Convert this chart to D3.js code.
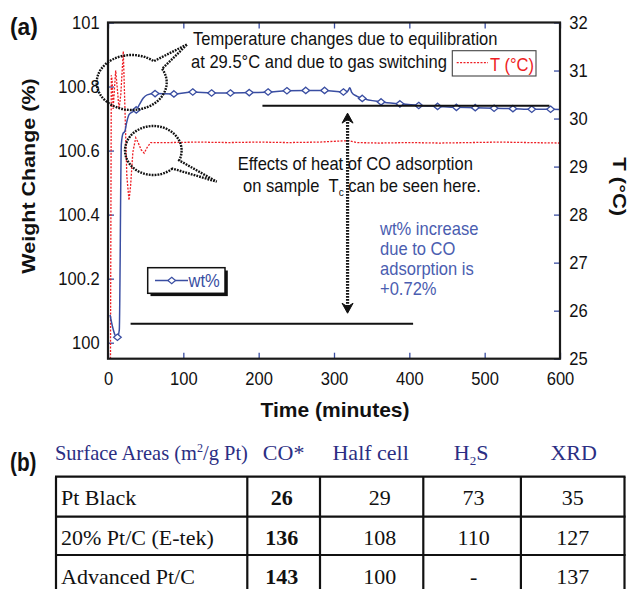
<!DOCTYPE html>
<html>
<head>
<meta charset="utf-8">
<script src="https://cdn.jsdelivr.net/npm/d3@7"></script>
<style>
  body { margin: 0; background: #fff; }
  svg { display: block; }
</style>
</head>
<body>
<div id="chart"></div>
<script>
// ---- data ----
var wtTime = [2.7, 6, 9.3, 12.5, 15, 17.7, 20, 22.2, 25, 27.9, 32, 37.5, 42, 46.9, 52,
  62.5, 87.5, 112.5, 137.5, 162.5, 187.5, 212.5, 237.5, 262.5, 287.5, 312.5, 318, 321,
  323.5, 330, 337.5, 362.5, 387.5, 412.5, 437.5, 462.5, 487.5, 512.5, 537.5, 562.5, 587.5, 600];
var wtValue = [100.087, 100.05, 100.024, 100.017, 100.04, 100.62, 100.654, 100.659, 100.69,
  100.712, 100.72, 100.727, 100.745, 100.764, 100.774, 100.778, 100.777, 100.783, 100.78,
  100.78, 100.781, 100.783, 100.787, 100.788, 100.788, 100.783, 100.785, 100.796, 100.782,
  100.770, 100.763, 100.752, 100.746, 100.741, 100.738, 100.735, 100.734, 100.732, 100.731,
  100.729, 100.729, 100.728];

var tempTime = [3.3, 4.4, 5.5, 6.8, 8.5, 10.2, 12.5, 14.6, 17, 20.3, 22.5, 25, 27.9, 30, 33,
  36.8, 40, 44, 48, 52, 56.7, 80, 120, 160, 200, 240, 280, 305, 320, 330, 360, 400, 440,
  480, 520, 560, 600];
var tempValue = [25.0, 30.9, 30.8, 30.2, 30.6, 31.0, 30.6, 30.2, 30.5, 31.4, 30.2, 28.8, 28.3,
  28.6, 29.3, 29.6, 29.5, 29.35, 29.28, 29.4, 29.5, 29.5, 29.51, 29.5, 29.51, 29.5, 29.51,
  29.53, 29.54, 29.5, 29.49, 29.5, 29.49, 29.5, 29.51, 29.5, 29.49];

var timeTicks = [0, 100, 200, 300, 400, 500, 600];
var wtTicks = [100, 100.2, 100.4, 100.6, 100.8, 101];
var tempTicks = [25, 26, 27, 28, 29, 30, 31, 32];

// reference levels used for the +0.72% annotation
var wtBaseline = 100.059, wtPlateau = 100.74;

// table (b)
var sampleNames = ["Pt Black", "20% Pt/C (E-tek)", "Advanced Pt/C"];
var coArea = ["26", "136", "143"];
var halfCellArea = ["29", "108", "100"];
var h2sArea = ["73", "110", "-"];
var xrdArea = ["35", "127", "137"];

// ---- layout ----
var W = 628, H = 589;
var plotL = 108, plotR = 560, plotT = 22.5, plotB = 358.7;
var blue = "#3a4ea2", red = "#ee1d23", navy = "#2b2e83";
var sans = "'Liberation Sans', Arial, sans-serif";
var serif = "'Liberation Serif', 'Times New Roman', serif";

var svg = d3.select("#chart").append("svg")
  .attr("width", W).attr("height", H)
  .attr("font-family", sans);

var x = d3.scaleLinear().domain([0, 600]).range([plotL, plotR]);
var yWt = d3.scaleLinear().domain([99.95, 101]).range([plotB, plotT]);
var yT = d3.scaleLinear().domain([25, 32]).range([plotB, plotT]);

function addText(parent, px, py, str, size, o) {
  o = o || {};
  return parent.append("text")
    .attr("transform", "translate(" + px + "," + py + ")" + (o.rot ? " rotate(" + o.rot + ")" : "") +
      " scale(" + (o.sx || 1) + "," + (o.sy || 1) + ")")
    .attr("font-size", size)
    .attr("font-weight", o.bold ? "bold" : null)
    .attr("font-family", o.family || null)
    .attr("fill", o.color || "#111")
    .attr("text-anchor", o.anchor || "start")
    .text(str);
}

// ---- axes ----
function styleAxis(g) {
  g.select(".domain").remove();
  g.selectAll(".tick line").attr("stroke", blue).attr("stroke-width", 1.3);
  g.selectAll(".tick text").attr("font-size", 18).attr("fill", "#111")
    .attr("font-family", sans).attr("transform", "scale(0.92,1)");
}

var fmtWt = function (d) { return String(+d.toFixed(1)); };

svg.append("g").attr("transform", "translate(0," + plotB + ")")
  .call(d3.axisBottom(x).tickValues(timeTicks).tickSizeInner(-6).tickSizeOuter(0).tickPadding(14))
  .call(styleAxis);
svg.append("g").attr("transform", "translate(0," + plotT + ")")
  .call(d3.axisTop(x).tickValues(timeTicks).tickSizeInner(-6).tickSizeOuter(0).tickFormat(""))
  .call(styleAxis);
svg.append("g").attr("transform", "translate(" + plotL + ",0)")
  .call(d3.axisLeft(yWt).tickValues(wtTicks).tickFormat(fmtWt).tickSizeInner(-6).tickSizeOuter(0).tickPadding(9))
  .call(styleAxis);
svg.append("g").attr("transform", "translate(" + plotR + ",0)")
  .call(d3.axisRight(yT).tickValues(tempTicks).tickFormat(d3.format("d")).tickSizeInner(-6).tickSizeOuter(0).tickPadding(10))
  .call(styleAxis);

// ---- series ----
svg.append("clipPath").attr("id", "plot").append("rect")
  .attr("x", plotL).attr("y", plotT).attr("width", plotR - plotL).attr("height", plotB - plotT);

var plot = svg.append("g").attr("clip-path", "url(#plot)");

var tempLine = d3.line()
  .x(function (d, i) { return x(tempTime[i]); })
  .y(function (d) { return yT(d); });

plot.append("path")
  .attr("d", tempLine(tempValue))
  .attr("fill", "none").attr("stroke", red)
  .attr("stroke-width", 1.3).attr("stroke-dasharray", "2,1.4");

var wtLine = d3.line()
  .x(function (d, i) { return x(wtTime[i]); })
  .y(function (d) { return yWt(d); })
  .curve(d3.curveMonotoneX);

plot.append("path")
  .attr("d", wtLine(wtValue))
  .attr("fill", "none").attr("stroke", blue).attr("stroke-width", 1.5);

var diamond = "M0,-3.2L3.8,0L0,3.2L-3.8,0Z";
var markerIdx = d3.range(wtTime.length).filter(function (i) {
  return Math.abs(((wtTime[i] - 12.5) % 25)) < 0.01;
});
plot.selectAll(".mk").data(markerIdx).enter().append("path")
  .attr("class", "mk")
  .attr("d", diamond)
  .attr("transform", function (i) { return "translate(" + x(wtTime[i]) + "," + yWt(wtValue[i]) + ")"; })
  .attr("fill", "#fff").attr("stroke", blue).attr("stroke-width", 1.3);

// frame
svg.append("rect")
  .attr("x", plotL).attr("y", plotT).attr("width", plotR - plotL).attr("height", plotB - plotT)
  .attr("fill", "none").attr("stroke", "#1a1a1a").attr("stroke-width", 2.2);

// ---- annotations ----
var ann = svg.append("g");

ann.append("line")
  .attr("x1", x(205)).attr("x2", x(586)).attr("y1", yWt(wtPlateau)).attr("y2", yWt(wtPlateau))
  .attr("stroke", "#111").attr("stroke-width", 2);
ann.append("line")
  .attr("x1", x(30)).attr("x2", x(405)).attr("y1", yWt(wtBaseline)).attr("y2", yWt(wtBaseline))
  .attr("stroke", "#111").attr("stroke-width", 2);

// dotted double arrow
var ax = x(318), aTop = yWt(100.717), aBot = yWt(100.092);
ann.append("line")
  .attr("x1", ax).attr("x2", ax).attr("y1", aTop + 6).attr("y2", aBot - 6)
  .attr("stroke", "#111").attr("stroke-width", 3.2).attr("stroke-dasharray", "1.6,1.4");
ann.append("path")
  .attr("d", "M" + ax + "," + aTop + "l5.5,10l-5.5,-3.5l-5.5,3.5Z")
  .attr("fill", "#111").attr("stroke", "#111").attr("stroke-width", 1);
ann.append("path")
  .attr("d", "M" + ax + "," + aBot + "l5.5,-10l-5.5,3.5l-5.5,-3.5Z")
  .attr("fill", "#111").attr("stroke", "#111").attr("stroke-width", 1);

// callout bubbles: arc runs clockwise from angle a2 round to a1, then out to the tip
function bubble(cx, cy, rx, ry, a1, a2, tx, ty) {
  var r = Math.PI / 180;
  var p1 = [cx + rx * Math.cos(a1 * r), cy + ry * Math.sin(a1 * r)];
  var p2 = [cx + rx * Math.cos(a2 * r), cy + ry * Math.sin(a2 * r)];
  var d = "M" + p2[0] + "," + p2[1] +
    "A" + rx + "," + ry + " 0 1 1 " + p1[0] + "," + p1[1] +
    "L" + tx + "," + ty + "Z";
  ann.append("path").attr("d", d)
    .attr("fill", "none").attr("stroke", "#111").attr("stroke-width", 2.4)
    .attr("stroke-dasharray", "1.8,1.1");
}
bubble(131.7, 82.5, 35, 27.5, -50.8, -29.7, 187.3, 44.3);
bubble(153.3, 150.5, 28.3, 24.5, 23.8, 47.6, 216.7, 181.7);

addText(ann, 193, 45, "Temperature changes due to equilibration", 18, { sx: 0.92 });
addText(ann, 191, 67.5, "at 29.5°C and due to gas switching", 18, { sx: 0.92 });

addText(ann, 237.7, 170, "Effects of heat of CO adsorption", 18, { sx: 0.92 });
var t2 = addText(ann, 243, 192, "on sample \u00a0T", 18, { sx: 0.92 });
t2.append("tspan").attr("font-size", 11).attr("dy", 4).text("c");
t2.append("tspan").attr("dy", -4).text(" can be seen here.");

var blueNote = ["wt% increase", "due to CO", "adsorption is", "+0.72%"];
blueNote.forEach(function (s, i) {
  addText(ann, 380, 234.5 + i * 20, s, 18, { sx: 0.92, color: "#4a5db0" });
});

// legend T (°C)
ann.append("rect").attr("x", 452.3).attr("y", 50.7).attr("width", 83.7).attr("height", 25.3)
  .attr("fill", "#fff").attr("stroke", "#444").attr("stroke-width", 1.1);
ann.append("line").attr("x1", 456.7).attr("x2", 488).attr("y1", 62.7).attr("y2", 62.7)
  .attr("stroke", red).attr("stroke-width", 1.2).attr("stroke-dasharray", "2,1.4");
addText(ann, 490, 70.5, "T (°C)", 18, { sx: 0.92, color: red });

// legend wt%
ann.append("rect").attr("x", 150.5).attr("y", 270.5).attr("width", 77.3).attr("height", 25.6)
  .attr("fill", "#111");
ann.append("rect").attr("x", 147.7).attr("y", 267.7).attr("width", 77.3).attr("height", 25.6)
  .attr("fill", "#fff").attr("stroke", "#111").attr("stroke-width", 1.5);
ann.append("line").attr("x1", 155).attr("x2", 188).attr("y1", 280.5).attr("y2", 280.5)
  .attr("stroke", blue).attr("stroke-width", 1.3);
ann.append("path").attr("d", diamond).attr("transform", "translate(171.7,280.5)")
  .attr("fill", "#fff").attr("stroke", blue).attr("stroke-width", 1.2);
addText(ann, 188.5, 287, "wt%", 18, { sx: 0.92, color: blue });

// axis titles and panel labels
addText(svg, 335, 416.5, "Time (minutes)", 21, { bold: true, anchor: "middle" });
addText(svg, 35, 176, "Weight Change (%)", 21.5, { bold: true, anchor: "middle", rot: -90, sy: 0.85 });
addText(svg, 612.5, 186.7, "T (°C)", 22, { bold: true, anchor: "middle", rot: 90, sy: 0.85 });
addText(svg, 10, 34.5, "(a)", 24, { bold: true, sx: 0.95 });
addText(svg, 10, 471, "(b)", 26, { bold: true, sx: 0.8 });

// ---- table (b) ----
var colEdges = [56, 247.3, 320, 423.3, 520.9, 624.5];
var rowEdges = [476.7, 516.7, 555, 594];
var numShift = [-2, 8, 1.5, 0];   // the printed numbers sit a little off-centre
var tbl = svg.append("g").attr("font-family", serif);

var colCenter = function (c) { return (colEdges[c] + colEdges[c + 1]) / 2; };
var hdrY = 460, fs = 22;

var hdr = addText(tbl, 55, hdrY, "Surface Areas (m", fs, { color: navy, family: serif, sx: 0.93 });
hdr.append("tspan").attr("font-size", 13).attr("dy", -8).text("2");
hdr.append("tspan").attr("dy", 8).text("/g Pt)");

addText(tbl, colCenter(1), hdrY, "CO*", fs, { color: navy, anchor: "middle", family: serif });
addText(tbl, colCenter(2) - 1, hdrY, "Half cell", fs, { color: navy, anchor: "middle", family: serif });
var hs = addText(tbl, colCenter(3) - 1, hdrY, "H", fs, { color: navy, anchor: "middle", family: serif });
hs.append("tspan").attr("font-size", 13).attr("dy", 5).text("2");
hs.append("tspan").attr("dy", -5).text("S");
addText(tbl, colCenter(4) + 1, hdrY, "XRD", fs, { color: navy, anchor: "middle", family: serif });

var rowY = [505, 545, 583.5];
var cols = [coArea, halfCellArea, h2sArea, xrdArea];
sampleNames.forEach(function (name, r) {
  addText(tbl, 61, rowY[r], name, fs, { family: serif });
  cols.forEach(function (vals, c) {
    addText(tbl, colCenter(c + 1) + numShift[c], rowY[r], vals[r], fs,
      { family: serif, anchor: "middle", bold: c === 0 });
  });
});

tbl.selectAll(".hl").data(rowEdges).enter().append("line")
  .attr("x1", colEdges[0] - 1).attr("x2", colEdges[colEdges.length - 1] + 1)
  .attr("y1", function (d) { return d; }).attr("y2", function (d) { return d; })
  .attr("stroke", "#111").attr("stroke-width", 2.2);
tbl.selectAll(".vl").data(colEdges).enter().append("line")
  .attr("x1", function (d) { return d; }).attr("x2", function (d) { return d; })
  .attr("y1", rowEdges[0]).attr("y2", rowEdges[rowEdges.length - 1])
  .attr("stroke", "#111").attr("stroke-width", 2.2);
</script>
</body>
</html>
